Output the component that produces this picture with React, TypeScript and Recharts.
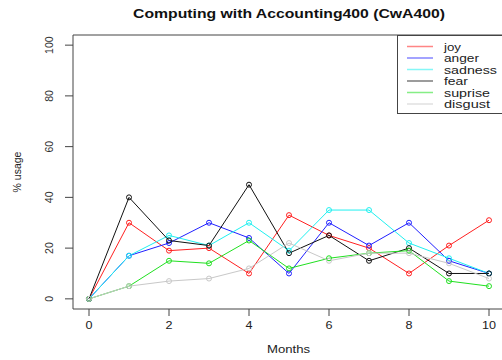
import React from "react";
import { LineChart, Line, XAxis, YAxis, ReferenceArea } from "recharts";

const months = [0, 1, 2, 3, 4, 5, 6, 7, 8, 9, 10];
const joy = [0, 30, 19, 20, 10, 33, 25, 20, 10, 21, 31];
const anger = [0, 17, 22, 30, 24, 10, 30, 21, 30, 15, 10];
const sadness = [0, 17, 25, 21, 30, 19, 35, 35, 22, 16, 10];
const fear = [0, 40, 23, 21, 45, 18, 25, 15, 20, 10, 10];
const suprise = [0, 5, 15, 14, 23, 12, 16, 18, 19, 7, 5];
const disgust = [0, 5, 7, 8, 12, 22, 15, 18, 18, 14, 8];

const xTicks = [0, 2, 4, 6, 8, 10];
const yTicks = [0, 20, 40, 60, 80, 100];

const seriesNames = ["joy", "anger", "sadness", "fear", "suprise", "disgust"];
const seriesValues = [joy, anger, sadness, fear, suprise, disgust];
const seriesColors = ["#ff2020", "#2020ff", "#20f0f0", "#111111", "#20e020", "#c8c8c8"];

const data = months.map((m, i) => {
  const row: Record<string, number> = { month: m };
  seriesNames.forEach((n, k) => {
    row[n] = seriesValues[k][i];
  });
  return row;
});

const FONT = "'Liberation Sans', Arial, sans-serif";
const AXIS = "#444444";

const XTick = (props: any) => {
  const { x, payload } = props;
  const s = String(payload.value);
  return (
    <text x={x} y={329} textAnchor="middle" fontFamily={FONT} fontSize={10} fill="#222"
      textLength={s.length * 7} lengthAdjust="spacingAndGlyphs">
      {s}
    </text>
  );
};

const YTick = (props: any) => {
  const { y, payload } = props;
  const s = String(payload.value);
  return (
    <text x={53} y={y} textAnchor="middle" fontFamily={FONT} fontSize={10.5} fill="#333"
      transform={`rotate(-90, 53, ${y})`}>
      {s}
    </text>
  );
};

const legendWidths = [17, 35, 53, 24, 46, 46];

export default function App() {
  return (
    <div style={{ position: "absolute", left: 0, top: 0, width: 502, height: 360, overflow: "hidden", background: "#fff" }}>
      <LineChart width={510} height={360} data={data} margin={{ top: 35, right: 5, left: 0, bottom: 0 }}>
        <XAxis
          dataKey="month"
          type="number"
          domain={[-0.4, 10.4]}
          ticks={xTicks}
          allowDataOverflow
          height={51}
          axisLine={false}
          tickLine={{ stroke: AXIS }}
          tickSize={7}
          tick={<XTick />}
        />
        <YAxis
          type="number"
          domain={[-4, 104]}
          ticks={yTicks}
          allowDataOverflow
          width={73}
          axisLine={false}
          tickLine={{ stroke: AXIS }}
          tickSize={8}
          tick={<YTick />}
        />
        <ReferenceArea x1={-0.4} x2={10.4} y1={-4} y2={104} fill="none" stroke={AXIS} strokeWidth={1} ifOverflow="visible" />
        {seriesNames.map((n, k) => (
          <Line
            key={n}
            dataKey={n}
            stroke={seriesColors[k]}
            strokeWidth={1}
            isAnimationActive={false}
            dot={{ r: 2.5, stroke: seriesColors[k], fill: "none", strokeWidth: 1 }}
          />
        ))}
      </LineChart>
      <svg width={502} height={360} style={{ position: "absolute", left: 0, top: 0, pointerEvents: "none" }}>
        <text x={289} y={18} textAnchor="middle" fontFamily={FONT} fontWeight="bold" fontSize={12.5} fill="#111"
          textLength={312} lengthAdjust="spacingAndGlyphs">
          Computing with Accounting400 (CwA400)
        </text>
        <text x={288.5} y={353} textAnchor="middle" fontFamily={FONT} fontSize={10.5} fill="#222"
          textLength={43} lengthAdjust="spacingAndGlyphs">
          Months
        </text>
        <text x={21} y={172} textAnchor="middle" fontFamily={FONT} fontSize={10.5} fill="#222"
          transform="rotate(-90, 21, 172)">
          % usage
        </text>
        <rect x={397.5} y={35.5} width={110} height={78} fill="#fff" stroke={AXIS} strokeWidth={1} />
        {seriesNames.map((n, k) => {
          const cy = 46.5 + k * 11.5;
          return (
            <g key={n}>
              <line x1={407} x2={433} y1={cy} y2={cy} stroke={seriesColors[k]} strokeOpacity={0.55} strokeWidth={1.5} />
              <text x={444} y={cy + 4} fontFamily={FONT} fontSize={11} fill="#222"
                textLength={legendWidths[k]} lengthAdjust="spacingAndGlyphs">
                {n}
              </text>
            </g>
          );
        })}
      </svg>
    </div>
  );
}
